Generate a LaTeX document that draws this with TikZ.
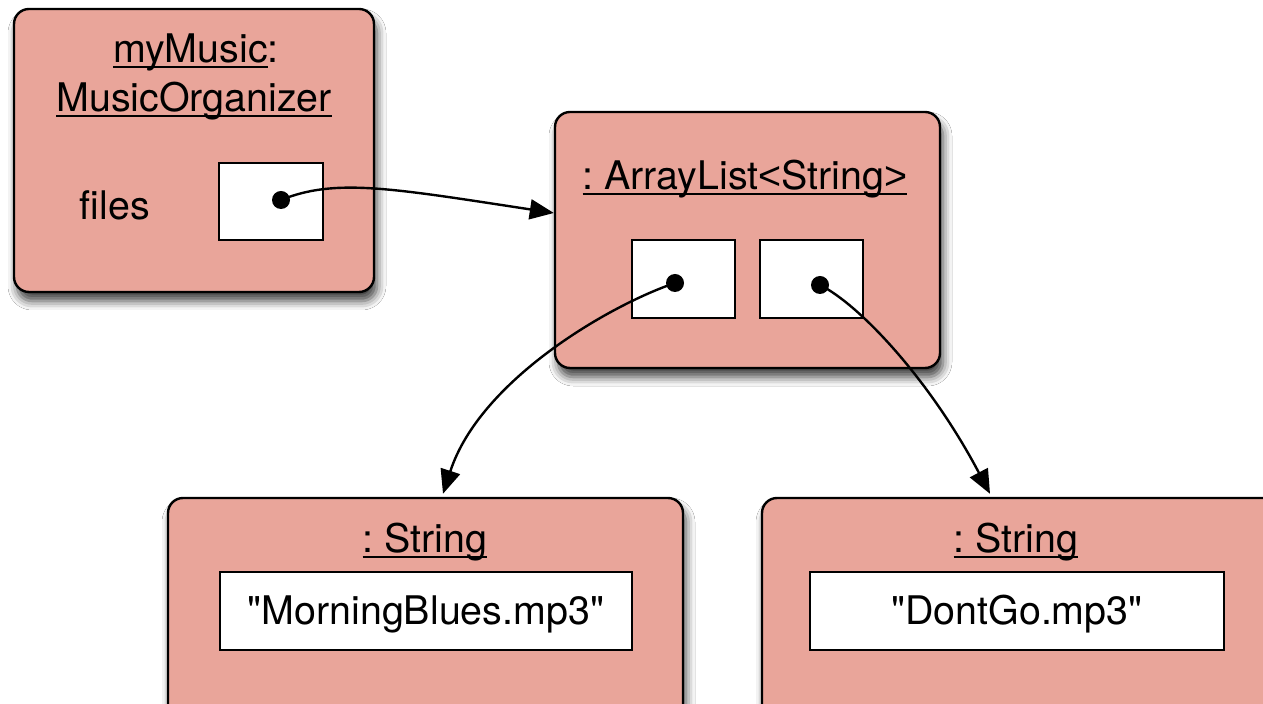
\documentclass[tikz,border=0pt]{standalone}
\usepackage{fontspec}
\setmainfont{TeX Gyre Heros}
\newfontfamily\angfont{Liberation Sans}
\usetikzlibrary{arrows.meta,shadows.blur}
\definecolor{objfill}{RGB}{233,165,154}
\frenchspacing
% underline that crosses descenders, like a UML object name
\newsavebox\ulbox
\newcommand\ulname[1]{\sbox\ulbox{#1}\rlap{\rule[-2.7pt]{\wd\ulbox}{1pt}}\usebox\ulbox}
\begin{document}
\begin{tikzpicture}[x=0.5pt,y=-0.5pt,
  objbox/.style={draw=black, line width=1.2pt, fill=objfill, rounded corners=7.5pt, inner sep=0pt,
    blur shadow={shadow xshift=1.5pt, shadow yshift=-4.5pt, shadow blur radius=4.5pt, shadow opacity=75}},
  slot/.style={draw=black, line width=1pt, fill=white, inner sep=0pt},
  refdot/.style={circle, fill=black, inner sep=0pt, minimum size=9pt},
  lbl/.style={inner sep=0pt, anchor=base, font=\fontsize{19.7pt}{23pt}\selectfont},
  link/.style={line width=1.2pt, -{Triangle[length=12pt,width=10pt]}}
]
\useasboundingbox (0,0) rectangle (1263,704);
\fill[white] (0,0) rectangle (1263,704);
\clip (0,0) rectangle (1263,704);

% object boxes
\node[objbox, minimum width=180pt, minimum height=141.5pt] (org) at (194,150.5) {};
\node[objbox, minimum width=192.5pt, minimum height=128pt] (list) at (747.5,240) {};
\node[objbox, minimum width=257.5pt, minimum height=111pt] (str1) at (425.5,609) {};
\node[objbox, minimum width=259pt, minimum height=111pt] (str2) at (1021,609) {};

% fields and elements
\node[slot, minimum width=52pt, minimum height=38.5pt] (filesslot) at (271,201.5) {};
\node[slot, minimum width=51.5pt, minimum height=39pt] (elem0) at (683.5,279) {};
\node[slot, minimum width=51.5pt, minimum height=39pt] (elem1) at (811.5,279) {};
\node[slot, minimum width=206pt, minimum height=39pt] (val1) at (426,611) {};
\node[slot, minimum width=207pt, minimum height=39pt] (val2) at (1017,611) {};

% labels
\node[lbl] (orgname) at (196,63) {\ulname{myMusic}:};
\node[lbl] (orgclass) at (194,112) {\ulname{MusicOrganizer}};
\node[lbl] (fileslbl) at (115,220) {files};
\node[lbl] (listclass) at (745,190) {\ulname{: ArrayList{\angfont\textless}String{\angfont\textgreater}}};
\node[lbl] (str1class) at (425,553) {\ulname{: String}};
\node[lbl] (str2class) at (1016,553) {\ulname{: String}};
\node[lbl] (val1txt) at (426,625) {\textquotedbl MorningBlues.mp3\textquotedbl};
\node[lbl] (val2txt) at (1017,625) {\textquotedbl DontGo.mp3\textquotedbl};

% reference dots
\node[refdot] (dfiles) at (281,200) {};
\node[refdot] (d0) at (675,283) {};
\node[refdot] (d1) at (820,285) {};

% references
\draw[link] (dfiles.center) .. controls (335,178) and (390,188) .. ([yshift=13.5pt]list.west);
\draw[link] (d0.center) .. controls (610,305) and (480,380) .. ([xshift=8.75pt,yshift=1.5pt]str1.north);
\draw[link] (d1.center) .. controls (860,305) and (930,380) .. ([xshift=-15.5pt,yshift=1.5pt]str2.north);
\end{tikzpicture}
\end{document}
